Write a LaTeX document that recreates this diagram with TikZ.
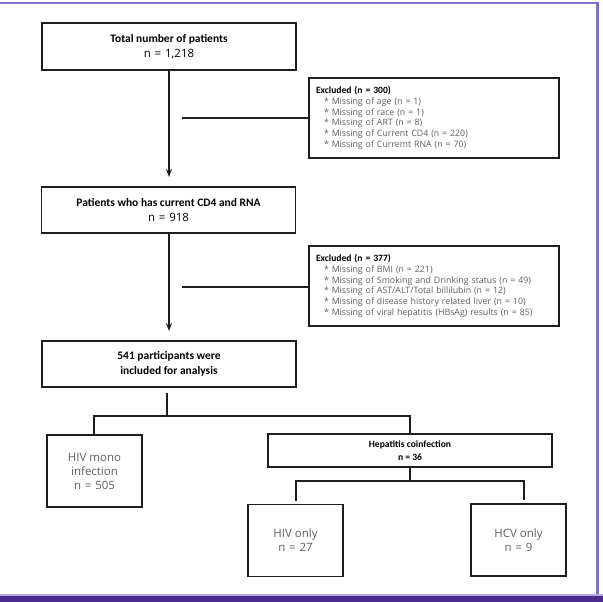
\documentclass[tikz,border=0pt]{standalone}
\usepackage{fontspec}
\setmainfont{Open Sans}
\newfontfamily\cb{Carlito}
\usetikzlibrary{arrows.meta}
\definecolor{txtgray}{HTML}{5E5E5E}
\definecolor{framelight}{HTML}{7E74C6}
\definecolor{framedark}{HTML}{4A2C8C}
\definecolor{boxline}{HTML}{1E1E1E}
\begin{document}
\begin{tikzpicture}[x=0.75pt,y=-0.75pt,
  box/.style={draw=boxline, line width=1.3pt, inner sep=0pt, align=center},
  mainbox/.style={box, minimum width=190.5pt, minimum height=34.5pt, font=\fontsize{8.6}{11.3}\selectfont},
  exbox/.style={box, minimum width=187.5pt, minimum height=60pt, text width=177pt, align=left, font=\fontsize{6.6}{8.2}\selectfont},
  smallbox/.style={box, minimum width=71.25pt, minimum height=54pt, text=txtgray, font=\fontsize{8.6}{10.5}\selectfont},
  conn/.style={draw=boxline, line width=1.3pt},
  arr/.style={conn, -{Stealth[length=6pt,width=4.5pt]}}
]
\useasboundingbox (0,0) rectangle (603,602);
% frame
\fill[framelight] (0,2) rectangle (599,4.5);
\fill[framelight] (596,2) rectangle (599,596);
\fill[framedark] (0,595) rectangle (603,602);
\fill[framelight!60] (0,594) rectangle (603,595.5);

% main boxes
\node[mainbox, minimum height=35.25pt] (b1) at (169,46.5) {{\cb\bfseries Total number of patients}\\ n\,\,=\,\,1,218};
\node[mainbox] (b2) at (168.5,210) {{\cb\bfseries Patients who has current CD4 and RNA}\\ n\,\,=\,\,918};
\node[mainbox] (b3) at (169,364) {\cb\bfseries 541 participants were\\ \cb\bfseries included for analysis};

% excluded boxes
\node[exbox] (e1) at (434,118) {{\fontsize{7.2}{8.2}\selectfont\cb\bfseries Excluded (n = 300)}\\
  \color{txtgray}\hspace*{6pt}* Missing of age (n = 1)\\
  \hspace*{6pt}* Missing of race (n = 1)\\
  \hspace*{6pt}* Missing of ART (n = 8)\\
  \hspace*{6pt}* Missing of Current CD4 (n = 220)\\
  \hspace*{6pt}* Missing of Curremt RNA (n = 70)};
\node[exbox] (e2) at (434,286) {{\fontsize{7.2}{8.2}\selectfont\cb\bfseries Excluded (n = 377)}\\
  \color{txtgray}\hspace*{6pt}* Missing of BMI (n = 221)\\
  \hspace*{6pt}* Missing of Smoking and Drinking status (n = 49)\\
  \hspace*{6pt}* Missing of AST/ALT/Total billilubin (n = 12)\\
  \hspace*{6pt}* Missing of disease history related liver (n = 10)\\
  \hspace*{6pt}* Missing of viral hepatitis (HBsAg) results (n = 85)};

% lower boxes
\node[smallbox] (mono) at (94.5,471) {HIV mono\\ infection\\ n\,\,=\,\,505};
\node[box, minimum width=213pt, minimum height=24.75pt, font=\fontsize{7.2}{9.4}\selectfont\cb\bfseries] (hep) at (410,450.5) {Hepatitis coinfection\\ n = 36};
\node[smallbox] (hivo) at (295.5,540.5) {HIV only\\ n\,\,=\,\,27};
\node[smallbox] (hcvo) at (518.5,540) {HCV only\\ n\,\,=\,\,9};

% arrows
\coordinate (a1) at (169,177);
\coordinate (a2) at (169,331);
\draw[arr] (b1.south -| a1) -- (a1);
\draw[arr] (b2.south -| a2) -- (a2);

% excluded connectors
\coordinate (c1) at (182,118);
\coordinate (c2) at (182,287);
\draw[conn] (c1) -- (e1.west |- c1);
\draw[conn] (c2) -- (e2.west |- c2);

% split below b3
\coordinate (s0) at (167,393);
\coordinate (s1) at (167,416);
\coordinate (sl) at (94,416);
\coordinate (sr) at (410,416);
\draw[conn] (s0) -- (s1);
\draw[conn] (mono.north -| sl) -- (sl) -- (sr) -- (hep.north);

% split below hep
\coordinate (h1) at (410,481);
\coordinate (hl) at (296,481);
\coordinate (hr) at (524,481);
\coordinate (hle) at (296,501);
\coordinate (hre) at (524,500);
\draw[conn] (hep.south) -- (h1);
\draw[conn] (hle) -- (hl) -- (hr) -- (hre);
\end{tikzpicture}
\end{document}
